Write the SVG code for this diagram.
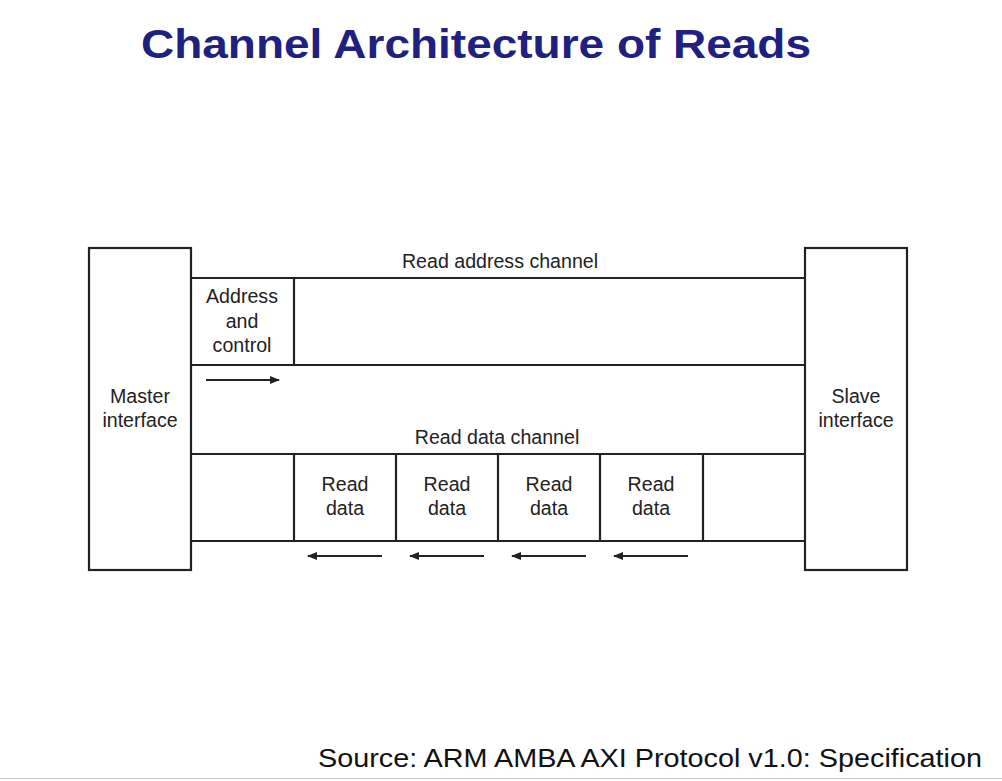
<svg xmlns="http://www.w3.org/2000/svg" width="1002" height="781" viewBox="0 0 1002 781">
<style>
.ln{stroke:#222;stroke-width:2.2;fill:none}
.bx{stroke:#222;stroke-width:2.2;fill:#fff}
.t{font-family:"Liberation Sans",Arial,sans-serif;font-size:19.6px;fill:#222;text-anchor:middle}
.ar{stroke:#222;stroke-width:1.8;fill:none}
</style>
<defs>
<marker id="ah" markerWidth="10" markerHeight="8" refX="9" refY="4" orient="auto" markerUnits="userSpaceOnUse">
<path d="M0,0 L10,4 L0,8 Z" fill="#222"/>
</marker>
</defs>
<rect width="1002" height="781" fill="#fff"/>
<text x="141" y="58" font-family="'Liberation Sans',Arial,sans-serif" font-weight="bold" font-size="40" fill="#202080" textLength="670" lengthAdjust="spacingAndGlyphs">Channel Architecture of Reads</text>

<g id="master">
<rect class="bx" x="89" y="248" width="102" height="322"/>
<text class="t" x="140" y="403">Master</text>
<text class="t" x="140" y="427">interface</text>
</g>
<g id="slave">
<rect class="bx" x="805" y="248" width="102" height="322"/>
<text class="t" x="856" y="403">Slave</text>
<text class="t" x="856" y="427">interface</text>
</g>

<g id="read-address-channel">
<text class="t" x="500" y="268">Read address channel</text>
<line class="ln" x1="191" y1="278" x2="805" y2="278"/>
<line class="ln" x1="191" y1="365" x2="805" y2="365"/>
</g>
<g id="address-control">
<line class="ln" x1="294" y1="278" x2="294" y2="365"/>
<text class="t" x="242" y="303">Address</text>
<text class="t" x="242" y="328">and</text>
<text class="t" x="242" y="352">control</text>
</g>

<g id="read-data-channel">
<text class="t" x="497" y="444">Read data channel</text>
<line class="ln" x1="191" y1="454" x2="805" y2="454"/>
<line class="ln" x1="191" y1="541" x2="805" y2="541"/>
<line class="ln" x1="294" y1="454" x2="294" y2="541"/>
<line class="ln" x1="703" y1="454" x2="703" y2="541"/>
</g>
<g id="rd1">
<line class="ln" x1="396" y1="454" x2="396" y2="541"/>
<text class="t" x="345" y="491">Read</text>
<text class="t" x="345" y="515">data</text>
</g>
<g id="rd2">
<line class="ln" x1="498" y1="454" x2="498" y2="541"/>
<text class="t" x="447" y="491">Read</text>
<text class="t" x="447" y="515">data</text>
</g>
<g id="rd3">
<line class="ln" x1="600" y1="454" x2="600" y2="541"/>
<text class="t" x="549" y="491">Read</text>
<text class="t" x="549" y="515">data</text>
</g>
<g id="rd4">
<text class="t" x="651" y="491">Read</text>
<text class="t" x="651" y="515">data</text>
</g>

<g id="connectors">
<line class="ar" x1="206" y1="380" x2="279" y2="380" marker-end="url(#ah)"/>
<line class="ar" x1="382" y1="556" x2="308" y2="556" marker-end="url(#ah)"/>
<line class="ar" x1="484" y1="556" x2="410" y2="556" marker-end="url(#ah)"/>
<line class="ar" x1="586" y1="556" x2="512" y2="556" marker-end="url(#ah)"/>
<line class="ar" x1="688" y1="556" x2="614" y2="556" marker-end="url(#ah)"/>
</g>

<text x="318" y="767" font-family="'Liberation Sans',Arial,sans-serif" font-size="25" fill="#111" textLength="664" lengthAdjust="spacingAndGlyphs">Source: ARM AMBA AXI Protocol v1.0: Specification</text>
<line x1="0" y1="778.5" x2="1002" y2="778.5" stroke="#c8c8c8" stroke-width="1"/>
</svg>
